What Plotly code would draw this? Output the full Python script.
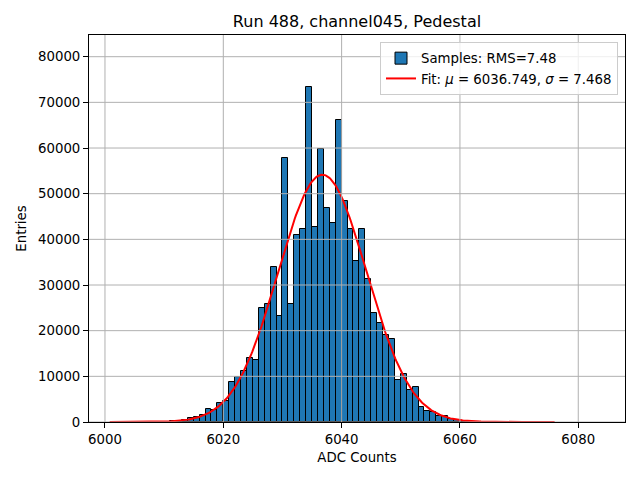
import numpy as np
import plotly.graph_objects as go

# ---- data ----
bin_left_edges = list(range(6010, 6062))
bin_counts = [60, 120, 250, 500, 800, 1150, 1500, 2800, 2550, 4100,
              4500, 8700, 9850, 11150, 14000, 13650, 24900, 25950, 33850, 23200,
              57900, 25750, 41050, 42300, 73300, 42700, 59800, 46900, 43600, 66200,
              48300, 42300, 35200, 42300, 31400, 23800, 21600, 19000, 18100, 9300,
              10600, 7100, 7600, 3200, 2500, 2200, 1300, 1300, 730, 440,
              150, 60]
bin_width = 1.0

fit_mu = 6036.749
fit_sigma = 7.468
fit_amplitude = 54150
fit_x_start = 6000.8
fit_x_end = 6076.0

x_ticks = [6000, 6020, 6040, 6060, 6080]
y_ticks = [0, 10000, 20000, 30000, 40000, 50000, 60000, 70000, 80000]
x_range = [5997.3, 6087.9]
y_range = [0, 84750]

title = "Run 488, channel045, Pedestal"
x_label = "ADC Counts"
y_label = "Entries"
rms_label = "Samples: RMS=7.48"
fit_label = "Fit: <i>μ</i> = 6036.749, <i>σ</i> = 7.468"

# ---- figure ----
FONT = "DejaVu Sans"
# the page body has an 8px default margin; size the figure so the
# visible window matches a 640x480 canvas
OFF = 8
W, H = 640 - OFF, 480 - OFF
ML, MR, MT, MB = 89 - OFF, 15, 35 - OFF, 58

bin_centers = [e + bin_width / 2 for e in bin_left_edges]

fit_x = np.linspace(fit_x_start, fit_x_end, 400)
fit_y = fit_amplitude * np.exp(-0.5 * ((fit_x - fit_mu) / fit_sigma) ** 2)

fig = go.Figure()
fig.add_trace(go.Bar(
    x=bin_centers, y=bin_counts, width=bin_width,
    marker=dict(color="#1f77b4", line=dict(color="black", width=1)),
    name=rms_label,
))
fig.add_trace(go.Scatter(
    x=fit_x, y=fit_y, mode="lines",
    line=dict(color="red", width=2),
    name=fit_label,
))

# grid lines drawn above the bars, as in the reference
shapes = []
for t in x_ticks:
    shapes.append(dict(type="line", xref="x", yref="paper", x0=t, x1=t, y0=0, y1=1,
                       line=dict(color="#b0b0b0", width=1), layer="above"))
for t in y_ticks:
    shapes.append(dict(type="line", xref="paper", yref="y", x0=0, x1=1, y0=t, y1=t,
                       line=dict(color="#b0b0b0", width=1), layer="above"))

plot_w = W - ML - MR
plot_h = H - MT - MB

fig.update_layout(
    width=W, height=H,
    margin=dict(l=ML, r=MR, t=MT, b=MB),
    paper_bgcolor="white", plot_bgcolor="white",
    font=dict(family=FONT, size=13, color="black"),
    bargap=0,
    shapes=shapes,
    title=dict(text=title, x=(ML + plot_w / 2) / W, xanchor="center",
               y=1 - (21 - OFF) / H, yanchor="middle",
               font=dict(family=FONT, size=16, color="black")),
    legend=dict(x=1 - 7 / plot_w, y=1 - 7 / plot_h, xanchor="right", yanchor="top",
                bgcolor="rgba(255,255,255,0.8)", bordercolor="#cccccc", borderwidth=1,
                font=dict(family=FONT, size=13.3, color="black"),
                tracegroupgap=2),
    showlegend=True,
)
fig.update_xaxes(
    range=x_range, tickvals=x_ticks, ticktext=[str(t) for t in x_ticks],
    showgrid=False, zeroline=False,
    showline=True, linecolor="black", linewidth=1, mirror=True,
    ticks="outside", ticklen=5, tickcolor="black", tickwidth=1,
    tickfont=dict(family=FONT, size=13.3, color="black"),
    title=dict(text=x_label, standoff=6, font=dict(family=FONT, size=13.3, color="black")),
)
fig.update_yaxes(
    range=y_range, tickvals=y_ticks, ticktext=[str(t) for t in y_ticks],
    showgrid=False, zeroline=False,
    showline=True, linecolor="black", linewidth=1, mirror=True,
    ticks="outside", ticklen=5, tickcolor="black", tickwidth=1,
    tickfont=dict(family=FONT, size=13.3, color="black"),
    title=dict(text=y_label, standoff=8, font=dict(family=FONT, size=13.3, color="black")),
)

fig.write_html("out.html")
